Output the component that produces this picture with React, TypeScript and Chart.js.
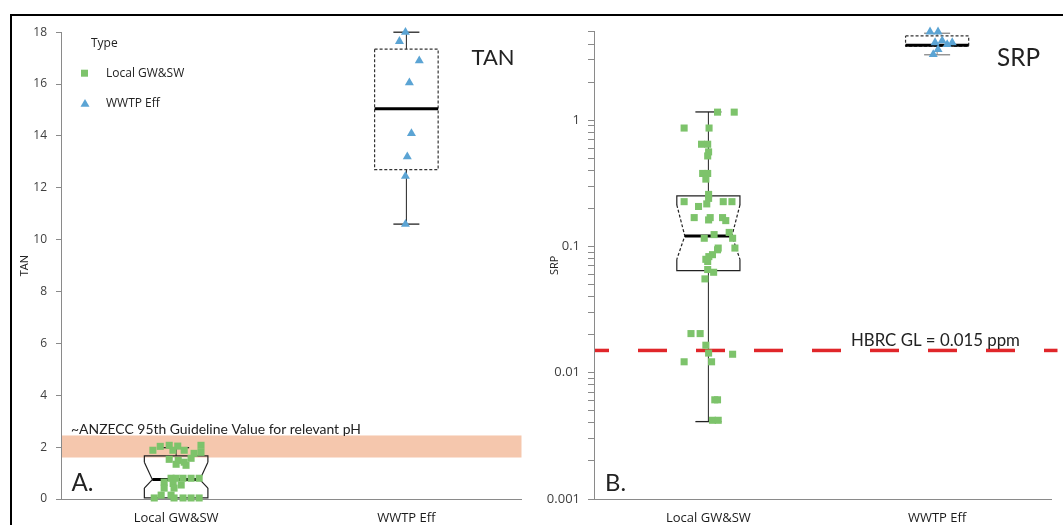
import React, { useEffect, useRef } from 'react';
import { Chart, registerables } from 'chart.js';
Chart.register(...registerables);

// ---------- data ----------
const categories = ['Local GW&SW', 'WWTP Eff'];
const legendTitle = 'Type';

const tanMin = 0;
const tanMax = 18;
const tanTickStep = 2;
const srpMin = 0.001;
const srpMax = 5;
const srpTickLabels = ['0.001', '0.01', '0.1', '1'];

const tanLocal = [1.88, 2.03, 2.07, 2.04, 1.88, 1.88, 2.07, 1.8, 1.76, 1.53, 1.49, 1.42, 1.34, 1.3, 1.57, 0.8, 0.8, 0.8, 0.8, 0.8, 0.65, 0.6, 0.54, 0.42, 0.42, 0.15, 0.15, 0.04, 0.04, 0.04, 0.04, 0.04];
const tanLocalJitter = [-0.101, -0.069, -0.03, 0.007, -0.014, 0.035, 0.108, 0.108, 0.078, -0.03, 0.009, 0.035, 0.0, 0.043, 0.065, -0.022, 0.0, 0.03, 0.065, 0.1, -0.052, -0.013, 0.022, -0.009, -0.052, -0.065, -0.022, -0.095, -0.009, 0.03, 0.065, 0.1];
const tanWwtp = [18.0, 17.65, 16.9, 16.05, 14.1, 13.2, 12.45, 10.6];
const tanWwtpJitter = [-0.004, -0.03, 0.056, 0.013, 0.022, 0.004, -0.004, -0.004];

const srpLocal = [1.156, 1.156, 0.865, 0.865, 0.644, 0.644, 0.56, 0.52, 0.378, 0.378, 0.341, 0.258, 0.24, 0.226, 0.207, 0.217, 0.226, 0.226, 0.169, 0.162, 0.169, 0.169, 0.16, 0.116, 0.124, 0.129, 0.116, 0.097, 0.097, 0.094, 0.086, 0.076, 0.0656, 0.0624, 0.0553, 0.0204, 0.0204, 0.0165, 0.0143, 0.014, 0.0122, 0.0122, 0.0061, 0.0061, 0.0042, 0.0042, 0.083, 0.079];
const srpLocalJitter = [0.04, 0.113, -0.106, 0.003, -0.03, -0.003, 0.001, -0.003, -0.025, -0.003, -0.011, 0.001, 0.001, -0.106, -0.043, -0.007, 0.065, 0.103, -0.062, 0.001, 0.008, 0.062, 0.076, -0.018, 0.025, 0.091, 0.106, 0.043, 0.116, 0.04, 0.018, -0.003, -0.003, 0.023, -0.015, -0.076, -0.036, -0.011, 0.001, 0.106, -0.106, 0.014, 0.028, 0.04, 0.018, 0.043, 0.002, -0.011];
const srpWwtp = [5.0, 5.0, 4.26, 4.11, 3.97, 4.11, 3.62, 3.31];
const srpWwtpJitter = [-0.031, 0.004, 0.022, -0.009, 0.044, 0.066, 0.004, -0.017];

// box stats: [whiskerLow, q1, notchLow, median, notchHigh, q3, whiskerHigh]
const tanLocalBox = [0.04, 0.04, 0.42, 0.75, 1.42, 1.66, 1.98];
const tanWwtpBox = [10.6, 12.7, null, 15.05, null, 17.35, 18.0];
const srpLocalBox = [0.0041, 0.0644, 0.079, 0.121, 0.213, 0.251, 1.16];
const srpWwtpBox = [3.29, 3.85, null, 3.92, null, 4.64, 4.87];

const tanGuideBand = [1.6, 2.45];
const tanGuideText = '~ANZECC 95th Guideline Value for relevant pH';
const srpGuideValue = 0.015;
const srpGuideText = 'HBRC GL = 0.015 ppm';

// ---------- styles ----------
const GREEN = '#7dc36b';
const BLUE = '#5ba4d4';
const BAND = '#f5c7ad';
const RED = '#e0262a';
const AXIS = '#8a8a8a';
const TICK_TXT = '#404040';
const TXT = '#222222';
const SANS = '"Open Sans", "Noto Sans", sans-serif';
const ANNO = 'Lato, "Open Sans", sans-serif';

type BoxStyle = { dashed: boolean; slantDash: boolean; whisker: string };

function drawBox(ctx: CanvasRenderingContext2D, xs: any, ys: any, idx: number, s: (number | null)[], st: BoxStyle) {
  const [wl, q1, nl, med, nh, q3, wh] = s as number[];
  const cx = xs.getPixelForValue(idx);
  const unit = Math.abs(xs.getPixelForValue(1) - xs.getPixelForValue(0));
  const half = unit * 0.138;
  const cap = 13;
  const inset = 8;
  const Y = (v: number) => ys.getPixelForValue(v);
  const line = (pts: number[][], dash: boolean, color = '#222', w = 1.2) => {
    ctx.beginPath();
    ctx.setLineDash(dash ? [3, 2] : []);
    ctx.strokeStyle = color;
    ctx.lineWidth = w;
    pts.forEach(([x, y], k) => (k ? ctx.lineTo(x, y) : ctx.moveTo(x, y)));
    ctx.stroke();
  };
  if (wh !== q3) {
    line([[cx, Y(q3)], [cx, Y(wh)]], false, st.whisker, 1);
    line([[cx - cap, Y(wh)], [cx + cap, Y(wh)]], false, st.whisker, 1.3);
  }
  if (wl !== q1) {
    line([[cx, Y(q1)], [cx, Y(wl)]], false, st.whisker, 1);
    line([[cx - cap, Y(wl)], [cx + cap, Y(wl)]], false, st.whisker, 1.3);
  }
  const L = cx - half;
  const R = cx + half;
  if (nl == null || nh == null) {
    line([[L, Y(q3)], [R, Y(q3)], [R, Y(q1)], [L, Y(q1)], [L, Y(q3)]], st.dashed, '#333');
    line([[L, Y(med)], [R, Y(med)]], false, '#000', 3);
  } else {
    line([[L, Y(nh)], [L, Y(q3)], [R, Y(q3)], [R, Y(nh)]], false);
    line([[L, Y(nl)], [L, Y(q1)], [R, Y(q1)], [R, Y(nl)]], false);
    line([[L, Y(nh)], [L + inset, Y(med)], [L, Y(nl)]], st.slantDash);
    line([[R, Y(nh)], [R - inset, Y(med)], [R, Y(nl)]], st.slantDash);
    line([[L + inset, Y(med)], [R - inset, Y(med)]], false, '#000', 3);
  }
  ctx.setLineDash([]);
}

function fitText(ctx: CanvasRenderingContext2D, text: string, width: number, family: string, weight = '400') {
  ctx.font = `${weight} 20px ${family}`;
  const w = ctx.measureText(text).width;
  const size = (20 * width) / w;
  ctx.font = `${weight} ${size.toFixed(2)}px ${family}`;
}

function drawLegend(ctx: CanvasRenderingContext2D, ca: any) {
  ctx.save();
  ctx.fillStyle = TXT;
  ctx.textBaseline = 'middle';
  ctx.textAlign = 'left';
  ctx.font = `12px ${SANS}`;
  ctx.fillText(legendTitle, ca.left + 30, ca.top + 11);
  ctx.fillText(categories[0], ca.left + 45, ca.top + 41);
  ctx.fillText(categories[1], ca.left + 45, ca.top + 71);
  ctx.fillStyle = GREEN;
  ctx.fillRect(ca.left + 20, ca.top + 37.5, 7, 7);
  ctx.fillStyle = BLUE;
  const tx = ca.left + 24, ty = ca.top + 72;
  ctx.beginPath();
  ctx.moveTo(tx, ty - 5.2);
  ctx.lineTo(tx + 4.5, ty + 2.6);
  ctx.lineTo(tx - 4.5, ty + 2.6);
  ctx.closePath();
  ctx.fill();
  ctx.restore();
}

const tanPlugin = {
  id: 'tanPanel',
  beforeDatasetsDraw(chart: any) {
    const { ctx, chartArea: ca, scales } = chart;
    const xs = scales.x, ys = scales.y;
    ctx.save();
    const yTop = ys.getPixelForValue(tanGuideBand[1]);
    const yBot = ys.getPixelForValue(tanGuideBand[0]);
    ctx.fillStyle = BAND;
    ctx.fillRect(ca.left + 1, yTop, ca.right - ca.left - 1, yBot - yTop);
    drawBox(ctx, xs, ys, 0, tanLocalBox, { dashed: false, slantDash: false, whisker: '#222' });
    drawBox(ctx, xs, ys, 1, tanWwtpBox, { dashed: true, slantDash: true, whisker: '#222' });
    ctx.restore();
  },
  afterDatasetsDraw(chart: any) {
    const { ctx, chartArea: ca, scales } = chart;
    const ys = scales.y;
    ctx.save();
    ctx.fillStyle = TXT;
    ctx.textAlign = 'left';
    ctx.textBaseline = 'alphabetic';
    fitText(ctx, 'TAN', 43, ANNO);
    ctx.fillText('TAN', ca.right - 50, ca.top + 33);
    fitText(ctx, 'A.', 22, ANNO);
    ctx.fillText('A.', ca.left + 10.5, ca.bottom - 8.5);
    fitText(ctx, tanGuideText, 290, ANNO);
    ctx.fillText(tanGuideText, ca.left + 10, ys.getPixelForValue(tanGuideBand[1]) - 1);
    ctx.restore();
    drawLegend(ctx, ca);
  },
};

const srpPlugin = {
  id: 'srpPanel',
  beforeDatasetsDraw(chart: any) {
    const { ctx, chartArea: ca, scales } = chart;
    const xs = scales.x, ys = scales.y;
    ctx.save();
    drawBox(ctx, xs, ys, 0, srpLocalBox, { dashed: false, slantDash: true, whisker: '#222' });
    drawBox(ctx, xs, ys, 1, srpWwtpBox, { dashed: true, slantDash: true, whisker: '#888' });
    const yl = ys.getPixelForValue(srpGuideValue);
    ctx.beginPath();
    ctx.setLineDash([29, 29]);
    ctx.lineDashOffset = 15;
    ctx.strokeStyle = RED;
    ctx.lineWidth = 3.5;
    ctx.moveTo(ca.left + 1, yl);
    ctx.lineTo(ca.right + 6, yl);
    ctx.stroke();
    ctx.restore();
  },
  afterDatasetsDraw(chart: any) {
    const { ctx, chartArea: ca, scales } = chart;
    const ys = scales.y;
    ctx.save();
    ctx.fillStyle = TXT;
    ctx.textAlign = 'left';
    ctx.textBaseline = 'alphabetic';
    fitText(ctx, 'SRP', 43, ANNO);
    ctx.fillText('SRP', ca.right - 54.5, ca.top + 34);
    fitText(ctx, 'B.', 21, ANNO);
    ctx.fillText('B.', ca.left + 11, ca.bottom - 8.5);
    fitText(ctx, srpGuideText, 169, ANNO);
    ctx.fillText(srpGuideText, ca.left + 257, ys.getPixelForValue(srpGuideValue) - 4);
    ctx.restore();
  },
};

function pts(vals: number[], jit: number[], cat: number) {
  return vals.map((v, i) => ({ x: cat + jit[i], y: v }));
}

function xAxis() {
  return {
    type: 'linear',
    min: -0.5,
    max: 1.5,
    afterBuildTicks: (s: any) => {
      s.ticks = categories.map((_, i) => ({ value: i }));
    },
    afterFit: (s: any) => {
      s.height = 26;
    },
    ticks: {
      autoSkip: false,
      maxRotation: 0,
      callback: (v: any) => categories[Number(v)] ?? '',
      font: { family: SANS, size: 13 },
      color: '#1a1a1a',
      padding: 11,
    },
    grid: { display: false, drawTicks: false },
    border: { color: AXIS, width: 1 },
  };
}

function makeDatasets(local: number[], lj: number[], ww: number[], wj: number[]) {
  return [
    {
      label: categories[0],
      data: pts(local, lj, 0),
      pointStyle: 'rect',
      pointRadius: 5,
      backgroundColor: GREEN,
      borderWidth: 0,
      clip: false,
    },
    {
      label: categories[1],
      data: pts(ww, wj, 1),
      pointStyle: 'triangle',
      pointRadius: 5.2,
      backgroundColor: BLUE,
      borderWidth: 0,
      clip: false,
    },
  ];
}

function srpTicks(scale: any) {
  const out: { value: number }[] = [];
  for (let e = -3; e <= 0; e++) {
    for (let s = 1; s <= 9; s++) {
      const v = Number((s * Math.pow(10, e)).toPrecision(3));
      if (v >= srpMin && v <= srpMax) out.push({ value: v });
    }
  }
  scale.ticks = out;
}

export default function App() {
  const leftRef = useRef<HTMLCanvasElement | null>(null);
  const rightRef = useRef<HTMLCanvasElement | null>(null);

  useEffect(() => {
    const left = new Chart(leftRef.current as HTMLCanvasElement, {
      type: 'scatter',
      data: { datasets: makeDatasets(tanLocal, tanLocalJitter, tanWwtp, tanWwtpJitter) as any },
      options: {
        responsive: false,
        animation: false,
        events: [],
        layout: { padding: { left: 0, right: 23.5, top: 13, bottom: 0 } },
        plugins: { legend: { display: false }, tooltip: { enabled: false } },
        scales: {
          x: xAxis() as any,
          y: {
            type: 'linear',
            min: tanMin,
            max: tanMax,
            afterFit: (s: any) => {
              s.width = 49;
            },
            ticks: {
              stepSize: tanTickStep,
              autoSkip: false,
              font: { family: SANS, size: 12 },
              color: TICK_TXT,
              padding: 9,
            },
            grid: { drawOnChartArea: false, drawTicks: true, tickLength: 5, tickColor: AXIS },
            border: { color: AXIS, width: 1 },
            title: {
              display: true,
              text: 'TAN',
              font: { family: SANS, size: 11 },
              color: TXT,
              padding: { top: 6, bottom: 0 },
            },
          },
        },
      },
      plugins: [tanPlugin],
    });

    const right = new Chart(rightRef.current as HTMLCanvasElement, {
      type: 'scatter',
      data: { datasets: makeDatasets(srpLocal, srpLocalJitter, srpWwtp, srpWwtpJitter) as any },
      options: {
        responsive: false,
        animation: false,
        events: [],
        layout: { padding: { left: 0, right: 11.5, top: 13, bottom: 0 } },
        plugins: { legend: { display: false }, tooltip: { enabled: false } },
        scales: {
          x: xAxis() as any,
          y: {
            type: 'logarithmic',
            min: srpMin,
            max: srpMax,
            afterBuildTicks: srpTicks,
            afterFit: (s: any) => {
              s.width = 49;
            },
            ticks: {
              autoSkip: false,
              callback: (v: any) => {
                const n = Number(v);
                const lbl = srpTickLabels.find((t) => Math.abs(Number(t) - n) < n * 1e-6);
                return lbl ?? '';
              },
              font: { family: SANS, size: 13 },
              color: TICK_TXT,
              padding: 8,
            },
            grid: { drawOnChartArea: false, drawTicks: true, tickLength: 6, tickColor: AXIS },
            border: { color: AXIS, width: 1 },
            title: {
              display: true,
              text: 'SRP',
              font: { family: SANS, size: 11 },
              color: TXT,
              padding: { top: 3, bottom: 0 },
            },
          },
        },
      },
      plugins: [srpPlugin],
    });

    return () => {
      left.destroy();
      right.destroy();
    };
  }, []);

  return (
    <div style={{ position: 'fixed', left: 0, top: 0, width: 1063, height: 525, background: '#fff', overflow: 'hidden' }}>
      <div
        style={{
          position: 'absolute',
          left: 10,
          top: 14,
          width: 1060,
          height: 520,
          borderTop: '2px solid #000',
          borderLeft: '2px solid #000',
          boxSizing: 'border-box',
        }}
      />
      <canvas ref={leftRef} width={533} height={509} style={{ position: 'absolute', left: 12, top: 16, width: 533, height: 509 }} />
      <canvas ref={rightRef} width={518} height={509} style={{ position: 'absolute', left: 545, top: 16, width: 518, height: 509 }} />
    </div>
  );
}
